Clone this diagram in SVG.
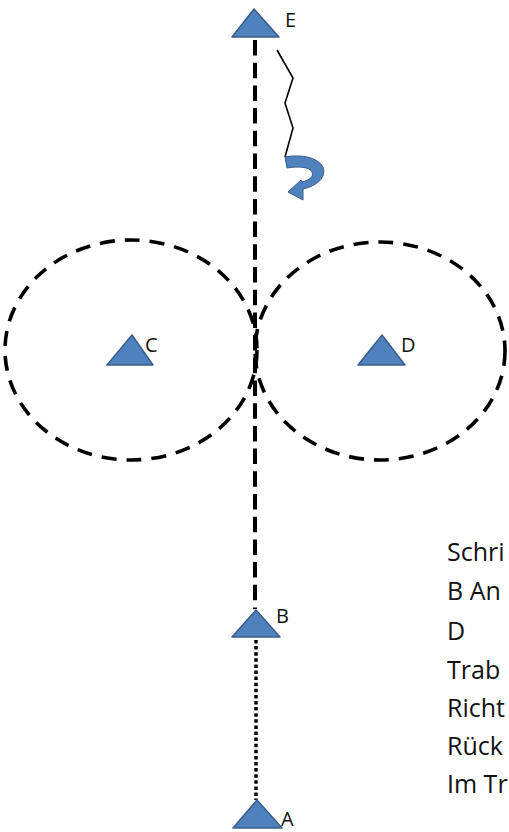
<svg xmlns="http://www.w3.org/2000/svg" width="509" height="832" viewBox="0 0 509 832">
  <style>
    .tri { fill: #4f81bd; stroke: #385d8a; stroke-width: 1.5; stroke-linejoin: round; }
    .lbl { font-family: "Open Sans", "Liberation Sans", sans-serif; font-size: 20px; fill: #111; }
    .note { font-family: "Open Sans", "Liberation Sans", sans-serif; font-size: 25px; fill: #111; }
    .zone { fill: none; stroke: #000; stroke-width: 3.6; stroke-dasharray: 15 10; }
    .path-dash { fill: none; stroke: #000; stroke-width: 4; stroke-dasharray: 15.5 7.2; }
    .path-dot { fill: none; stroke: #000; stroke-width: 3.5; stroke-dasharray: 3.5 2.6; }
  </style>
  <rect width="509" height="832" fill="#fff"/>

  <!-- volte circles around C and D -->
  <g id="zones">
    <ellipse cx="131" cy="350" rx="126" ry="110" class="zone"/>
    <ellipse cx="380" cy="351" rx="125" ry="109" class="zone"/>
  </g>

  <!-- connectors -->
  <g id="connectors">
    <line x1="255" y1="40" x2="255" y2="609" class="path-dash"/>
    <line x1="256" y1="640" x2="256" y2="800" class="path-dot"/>
    <polyline points="277,50 293,78 285,103 293,128 285,157" fill="none" stroke="#000" stroke-width="1.6" stroke-linejoin="round"/>
    <path d="M 285 157 C 300 154, 318 157, 323 167 C 327 178, 316 186, 303 189 L 303 200 L 288 192 L 301 180 L 302 182 C 310 180, 314 176, 312 172 C 310 167, 298 166, 287 168 Z" fill="#4f81bd" stroke="#385d8a" stroke-width="1"/>
  </g>

  <g id="E">
    <polygon points="254,9 232,37 279,37" class="tri"/>
    <text x="285" y="27" class="lbl">E</text>
  </g>
  <g id="C">
    <polygon points="132,335 107,365 153,365" class="tri"/>
    <text x="145" y="352" class="lbl">C</text>
  </g>
  <g id="D">
    <polygon points="382,335 358,365 405,365" class="tri"/>
    <text x="401" y="352" class="lbl">D</text>
  </g>
  <g id="B">
    <polygon points="256,610 232,637 280,637" class="tri"/>
    <text x="276" y="623" class="lbl">B</text>
  </g>
  <g id="A">
    <polygon points="257,800 233,828 282,828" class="tri"/>
    <text x="281" y="826" class="lbl">A</text>
  </g>

  <!-- legend column -->
  <g id="legend" class="note">
    <text x="447" y="561">Schri</text>
    <text x="447" y="600">B An</text>
    <text x="447" y="640">D</text>
    <text x="447" y="679">Trab</text>
    <text x="447" y="717">Richt</text>
    <text x="447" y="755">Rück</text>
    <text x="447" y="793">Im Tr</text>
  </g>
</svg>
